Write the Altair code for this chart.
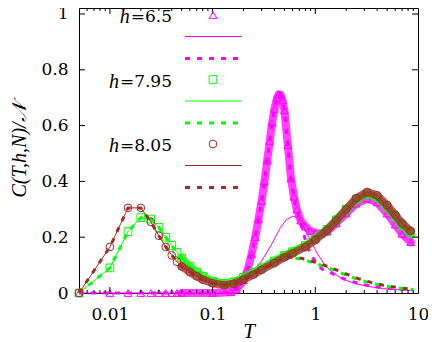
import altair as alt
import pandas as pd

# ---------------- data ----------------
H_LABELS = ["6.5", "7.95", "8.05"]
COLORS = ["#ff00ff", "#00ff00", "#a52a2a"]
SHAPES = ["triangle-up", "square", "circle"]

# individually visible markers at low T (spacing 0.005)
T_pts = [0.005, 0.01, 0.015, 0.02, 0.025, 0.03, 0.035, 0.04, 0.045]
C_pts_65 = [0.0, 0.0, 0.0, 0.0, 0.0, 0.0, 0.0, 0.0, 0.0]
C_pts_795 = [0.0, 0.09, 0.22, 0.27, 0.265, 0.235, 0.20, 0.17, 0.145]
C_pts_805 = [0.0, 0.165, 0.305, 0.305, 0.255, 0.205, 0.165, 0.135, 0.112]

# dense marker band (h = 7.95 and 8.05)
T_band = [0.05, 0.06, 0.07, 0.08, 0.1, 0.13, 0.16, 0.2, 0.25, 0.3, 0.4, 0.5,
          0.6, 0.8, 1.0, 1.3, 1.6, 2.0, 2.5, 3.2, 4.0, 5.0, 6.0, 7.0, 8.5]
C_band_795 = [0.125, 0.095, 0.075, 0.06, 0.042, 0.034, 0.04, 0.056, 0.074, 0.09,
              0.115, 0.134, 0.148, 0.17, 0.195, 0.228, 0.262, 0.30, 0.335, 0.355,
              0.342, 0.308, 0.273, 0.243, 0.215]
C_band_805 = [0.095, 0.075, 0.06, 0.048, 0.035, 0.028, 0.033, 0.048, 0.066, 0.083,
              0.108, 0.128, 0.142, 0.165, 0.19, 0.225, 0.26, 0.30, 0.34, 0.362,
              0.35, 0.315, 0.28, 0.25, 0.222]

# dense marker band (h = 6.5)
T_band_65 = [0.05, 0.1, 0.15, 0.17, 0.2, 0.22, 0.24, 0.26, 0.28, 0.3, 0.32, 0.34,
             0.36, 0.38, 0.4, 0.425, 0.44, 0.46, 0.48, 0.5, 0.54, 0.58, 0.62,
             0.66, 0.72, 0.8, 0.9, 1.0, 1.15, 1.3, 1.6, 2.0, 2.5, 3.2, 4.0, 5.0,
             6.0, 7.0, 8.5]
C_band_65 = [0.0, 0.0, 0.003, 0.012, 0.045, 0.085, 0.14, 0.20, 0.265, 0.33, 0.40,
             0.475, 0.545, 0.61, 0.66, 0.70, 0.712, 0.71, 0.69, 0.655, 0.53, 0.41,
             0.345, 0.30, 0.26, 0.238, 0.222, 0.215, 0.213, 0.22, 0.25, 0.285,
             0.32, 0.338, 0.325, 0.285, 0.245, 0.212, 0.182]

# thin solid line, h = 6.5
T_solid_65 = [0.005, 0.15, 0.2, 0.25, 0.3, 0.37, 0.45, 0.52, 0.6, 0.68, 0.75,
              0.85, 0.93, 1.05, 1.2, 1.4, 1.7, 2.0, 2.5, 3.2, 4.5, 6.0, 9.0]
C_solid_65 = [0.0, 0.0, 0.035, 0.075, 0.115, 0.17, 0.23, 0.262, 0.275, 0.27,
              0.245, 0.205, 0.178, 0.14, 0.108, 0.08, 0.058, 0.045, 0.033, 0.024,
              0.016, 0.012, 0.009]

# dashed lines: where they leave the marker bands
T_dash_tail_65 = [0.8, 0.9, 1.05, 1.2, 1.45, 2.0, 2.8, 3.8, 5.9, 9.0]
C_dash_tail_65 = [0.19, 0.14, 0.10, 0.083, 0.07, 0.047, 0.032, 0.022, 0.016, 0.011]
T_dash_tail = [0.6, 0.7, 0.8, 1.0, 1.3, 1.6, 2.0, 2.7, 3.5, 4.5, 5.5, 7.0, 9.0]
C_dash_tail_795 = [0.126, 0.123, 0.118, 0.106, 0.092, 0.079, 0.064, 0.047, 0.035,
                   0.027, 0.021, 0.016, 0.012]
C_dash_tail_805 = [0.128, 0.126, 0.121, 0.11, 0.096, 0.083, 0.068, 0.05, 0.038,
                   0.029, 0.023, 0.017, 0.013]
DASH_SPLIT = [0.7, 0.5, 0.5]   # last band T followed by each dashed curve

# axis ticks
X_LABELS = [0.01, 0.1, 1, 10]
X_MAJOR_IN = [0.01, 0.1, 1]
X_MINOR = [0.006, 0.007, 0.008, 0.009, 0.02, 0.03, 0.04, 0.05, 0.06, 0.07, 0.08,
           0.09, 0.2, 0.3, 0.4, 0.5, 0.6, 0.7, 0.8, 0.9, 2, 3, 4, 5, 6, 7, 8, 9]
Y_LABELS = [0, 0.2, 0.4, 0.6, 0.8, 1]
Y_IN = [0.2, 0.4, 0.6, 0.8, 1]

# ---------------- chart ----------------
W, H = 339, 285
FONT_REG = "DejaVu Serif"
FONT_IT = "Liberation Serif"
LBL = 17


def frame(T, C):
    return pd.DataFrame({"T": T, "C": C})


xscale = alt.Scale(type="log", domain=[0.005, 10], nice=False)
yscale = alt.Scale(domain=[0, 1.0215], nice=False, zero=False)

x_axis = alt.Axis(values=X_LABELS, format="~g", ticks=False, tickSize=0, domain=False,
                  grid=False, labelFont=FONT_REG, labelFontSize=LBL, labelColor="black",
                  labelPadding=13, labelFlush=False, title="T", titleFont=FONT_IT,
                  titleFontSize=21, titleFontStyle="italic", titleFontWeight="normal",
                  titleColor="black", titleY=44, titleBaseline="alphabetic")
y_axis = alt.Axis(values=Y_LABELS, format="~g", ticks=False, tickSize=0, domain=False,
                  grid=False, labelFont=FONT_REG, labelFontSize=LBL, labelColor="black",
                  labelPadding=11, title="C(T,h,N)/𝒩", titleFont=FONT_IT,
                  titleFontSize=20, titleFontStyle="italic", titleFontWeight="normal",
                  titleColor="black", titleX=-54, titleY=142, titleAngle=270,
                  titleAlign="center", titleBaseline="alphabetic")

XE = alt.X("T:Q", scale=xscale, axis=x_axis)
YE = alt.Y("C:Q", scale=yscale, axis=y_axis)

pts_list = [C_pts_65, C_pts_795, C_pts_805]
band_T = [T_band_65, T_band, T_band]
band_C = [C_band_65, C_band_795, C_band_805]
tails_T = [T_dash_tail_65, T_dash_tail, T_dash_tail]
tails_C = [C_dash_tail_65, C_dash_tail_795, C_dash_tail_805]

layers = []
for i in range(3):
    col = COLORS[i]
    full_T = T_pts + band_T[i]
    full_C = pts_list[i] + band_C[i]
    # dense markers band
    layers.append(alt.Chart(frame(band_T[i], band_C[i])).mark_line(
        color=col, strokeWidth=8, opacity=0.75, strokeCap="round", strokeJoin="round"
    ).encode(x=XE, y=YE))
    layers.append(alt.Chart(frame(full_T, full_C)).mark_point(
        shape=SHAPES[i], color=col, size=60, strokeWidth=1, filled=False, opacity=1
    ).encode(x=XE, y=YE))
    # thin solid line
    if i == 0:
        sT, sC = T_solid_65, C_solid_65
    else:
        sT, sC = full_T, full_C
    layers.append(alt.Chart(frame(sT, sC)).mark_line(
        color=col, strokeWidth=1).encode(x=XE, y=YE))
    # thick dashed line
    dT = [t for t in full_T if t <= DASH_SPLIT[i]]
    dC = [c for t, c in zip(full_T, full_C) if t <= DASH_SPLIT[i]]
    layers.append(alt.Chart(frame(dT + tails_T[i], dC + tails_C[i])).mark_line(
        color=col, strokeWidth=3, strokeDash=[5, 7]).encode(x=XE, y=YE))

# inward ticks (gnuplot style, mirrored)
xmaj = pd.DataFrame({"T": X_MAJOR_IN})
xmin = pd.DataFrame({"T": X_MINOR})
yin = pd.DataFrame({"C": Y_IN})
rule = dict(color="black", strokeWidth=1)
layers += [
    alt.Chart(xmaj).mark_rule(**rule).encode(x=XE, y=alt.value(H), y2=alt.value(H - 6)),
    alt.Chart(xmaj).mark_rule(**rule).encode(x=XE, y=alt.value(0), y2=alt.value(6)),
    alt.Chart(xmin).mark_rule(**rule).encode(x=XE, y=alt.value(H), y2=alt.value(H - 3)),
    alt.Chart(xmin).mark_rule(**rule).encode(x=XE, y=alt.value(0), y2=alt.value(3)),
    alt.Chart(yin).mark_rule(**rule).encode(y=YE, x=alt.value(0), x2=alt.value(6)),
    alt.Chart(yin).mark_rule(**rule).encode(y=YE, x=alt.value(W), x2=alt.value(W - 6)),
]

# key (gnuplot style: label, symbol, solid sample, dashed sample)
one = pd.DataFrame({"k": [0]})
KEY_TEXT_X = 93
KEY_SYM_X = 134
KEY_X1, KEY_X2 = 106, 163
KEY_ROWS = [7, 71.5, 136]
EQ_WIDTH = [41.3, 52.1, 52.1]
for i in range(3):
    y0 = KEY_ROWS[i]
    col = COLORS[i]
    layers.append(alt.Chart(one).mark_text(
        font=FONT_REG, fontSize=LBL, align="right", baseline="middle", color="black"
    ).encode(x=alt.value(KEY_TEXT_X), y=alt.value(y0 + 2), text=alt.value("=" + H_LABELS[i])))
    layers.append(alt.Chart(one).mark_text(
        font=FONT_IT, fontSize=20, fontStyle="italic", align="right", baseline="middle",
        color="black"
    ).encode(x=alt.value(KEY_TEXT_X - EQ_WIDTH[i] - 1), y=alt.value(y0 + 2), text=alt.value("h")))
    layers.append(alt.Chart(one).mark_point(
        shape=SHAPES[i], color=col, size=60, strokeWidth=1, filled=False, opacity=1
    ).encode(x=alt.value(KEY_SYM_X), y=alt.value(y0)))
    layers.append(alt.Chart(one).mark_rule(color=col, strokeWidth=1).encode(
        x=alt.value(KEY_X1), x2=alt.value(KEY_X2), y=alt.value(y0 + 21.5)))
    layers.append(alt.Chart(one).mark_rule(color=col, strokeWidth=3, strokeDash=[5, 7]).encode(
        x=alt.value(KEY_X1), x2=alt.value(KEY_X2), y=alt.value(y0 + 43.5)))

chart = alt.layer(*layers).properties(
    width=W, height=H, autosize=alt.AutoSizeParams(type="none"),
    padding={"left": 71, "top": 0, "right": 10, "bottom": 49},
).configure_view(stroke="black", strokeWidth=1)

chart.save("out.html", embed_options={"renderer": "svg", "actions": False})
